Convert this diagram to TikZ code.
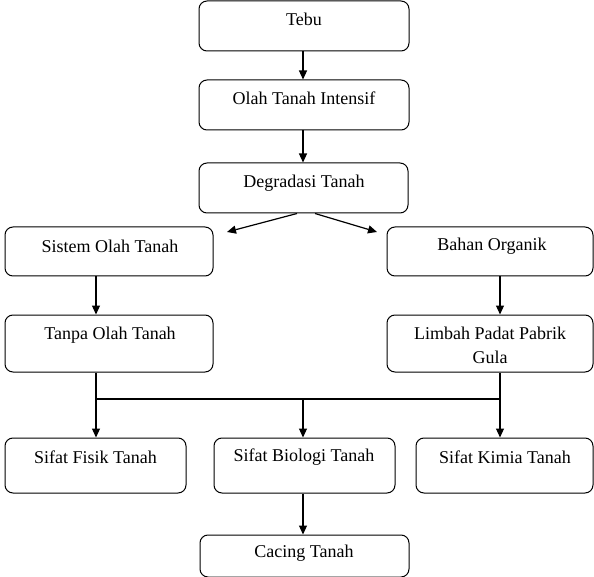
\documentclass[tikz,border=0pt]{standalone}
\usepackage{fontspec}
\setmainfont{Liberation Serif}
\usetikzlibrary{arrows.meta,calc}
\begin{document}
\begin{tikzpicture}[x=1pt,y=-1pt,
  box/.style={draw, line width=1pt, rounded corners=8pt, inner sep=0pt},
  txt/.style={font=\fontsize{18}{24}\selectfont, inner sep=0pt, align=center},
  arr/.style={line width=1.2pt, -{Triangle[length=9pt,width=8pt]}},
  ln/.style={line width=1.2pt}]
\useasboundingbox (0,0) rectangle (594,577);
% boxes
\node[box, minimum width=210pt, minimum height=50pt] (tebu) at (304,26) {};
\node[box, minimum width=210pt, minimum height=50pt] (olah) at (304,105) {};
\node[box, minimum width=209pt, minimum height=50pt] (degr) at (303.5,188) {};
\node[box, minimum width=208pt, minimum height=49pt] (sistem) at (109,251.5) {};
\node[box, minimum width=206pt, minimum height=49pt] (bahan) at (490,251.5) {};
\node[box, minimum width=208pt, minimum height=57pt] (tanpa) at (109,343.5) {};
\node[box, minimum width=206pt, minimum height=57pt] (limbah) at (490,343.5) {};
\node[box, minimum width=181pt, minimum height=55pt] (fisik) at (95.5,465.5) {};
\node[box, minimum width=181pt, minimum height=55pt] (bio) at (304.5,465.5) {};
\node[box, minimum width=177pt, minimum height=55pt] (kimia) at (504.5,465.5) {};
\node[box, minimum width=209pt, minimum height=42pt] (cacing) at (304.5,556) {};
% texts
\node[txt] (tebuT) at (304,19) {Tebu};
\node[txt] (olahT) at (304,98) {Olah Tanah Intensif};
\node[txt] (degrT) at (304,183) {Degradasi Tanah};
\node[txt] (sistemT) at (110,246) {Sistem Olah Tanah};
\node[txt] (bahanT) at (492,246) {Bahan Organik};
\node[txt] (tanpaT) at (110,335) {Tanpa Olah Tanah};
\node[txt] (limbahT) at (490,345) {Limbah Padat Pabrik\\Gula};
\node[txt] (fisikT) at (95.5,457) {Sifat Fisik Tanah};
\node[txt] (bioT) at (304,457) {Sifat Biologi Tanah};
\node[txt] (kimiaT) at (505,457) {Sifat Kimia Tanah};
\node[txt] (cacingT) at (304,553) {Cacing Tanah};
% connectors
\draw[arr] ($(tebu.south)+(-1,0)$) -- ($(olah.north)+(-1,0)$);
\draw[arr] ($(olah.south)+(-1,0)$) -- ($(degr.north)+(-0.5,0)$);
\coordinate (dl) at (227,232);
\coordinate (dr) at (377,232);
\draw[arr] ($(degr.south)+(-6.5,0)$) -- (dl);
\draw[arr] ($(degr.south)+(11.5,0)$) -- (dr);
\draw[arr] ($(sistem.south)+(-13,0)$) -- ($(tanpa.north)+(-13,0)$);
\draw[arr] ($(bahan.south)+(10,0)$) -- ($(limbah.north)+(10,0)$);
\coordinate (jl) at (96,399);
\coordinate (jm) at (303,399);
\coordinate (jr) at (500,399);
\draw[ln] ($(tanpa.south)+(-13,0)$) -- (jl) -- (jr);
\draw[arr] ($(limbah.south)+(10,0)$) -- ($(kimia.north)+(-4.5,0)$);
\draw[arr] (jl) -- ($(fisik.north)+(0.5,0)$);
\draw[arr] (jm) -- ($(bio.north)+(-1.5,0)$);
\draw[arr] ($(bio.south)+(-1.5,0)$) -- ($(cacing.north)+(-1.5,0)$);
\end{tikzpicture}
\end{document}
